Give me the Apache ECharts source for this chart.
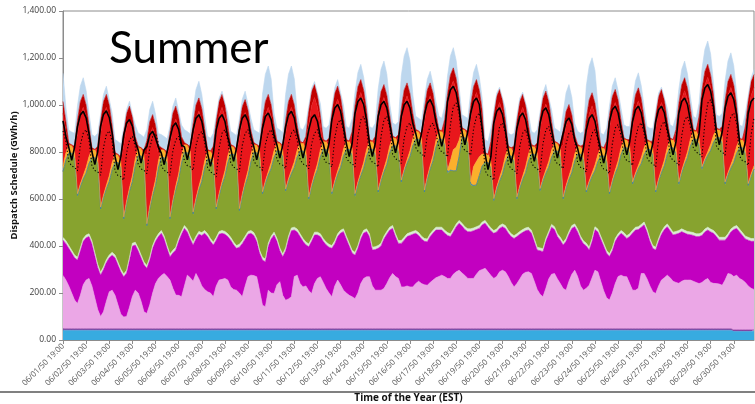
<!DOCTYPE html>
<html>
<head>
<meta charset="utf-8">
<script src="https://cdn.jsdelivr.net/npm/echarts@6/dist/echarts.min.js"></script>
<style>
html,body{margin:0;padding:0;background:#fff;}
#chart{width:755px;height:404px;}
</style>
</head>
<body>
<div id="chart"></div>
<script>
// Summer dispatch schedule, 3-hourly steps starting 06/01/50 19:00 (GWh/h per layer)
const tickLabels = [
  '06/01/50 19:00','06/02/50 19:00','06/03/50 19:00','06/04/50 19:00','06/05/50 19:00',
  '06/06/50 19:00','06/07/50 19:00','06/08/50 19:00','06/09/50 19:00','06/10/50 19:00',
  '06/11/50 19:00','06/12/50 19:00','06/13/50 19:00','06/14/50 19:00','06/15/50 19:00',
  '06/16/50 19:00','06/17/50 19:00','06/18/50 19:00','06/19/50 19:00','06/20/50 19:00',
  '06/21/50 19:00','06/22/50 19:00','06/23/50 19:00','06/24/50 19:00','06/25/50 19:00',
  '06/26/50 19:00','06/27/50 19:00','06/28/50 19:00','06/29/50 19:00','06/30/50 19:00'
];
const stepHours = ['19:00','22:00','01:00','04:00','07:00','10:00','13:00','16:00'];
const yTicks = [0, 200, 400, 600, 800, 1000, 1200, 1400];

// stacked layers, bottom to top
const skyBlue = [
  42,42,42,42,42,42,42,42, 42,42,42,42,42,42,42,42,
  42,42,42,42,42,42,42,42, 42,42,42,42,42,42,42,42,
  42,42,42,42,42,42,42,42, 42,42,42,42,42,42,42,42,
  42,42,42,42,42,42,42,42, 42,42,42,42,42,42,42,42,
  42,42,42,42,42,42,42,42, 42,42,42,42,42,42,42,42,
  42,42,42,42,42,42,42,42, 42,42,42,42,42,42,42,42,
  42,42,42,42,42,42,42,42, 42,42,42,42,42,42,42,42,
  42,42,42,42,42,42,42,42, 42,42,42,42,42,42,42,42,
  42,42,42,42,42,42,42,42, 42,42,42,42,42,42,42,42,
  42,42,42,42,42,42,42,42, 42,42,42,42,42,42,42,42,
  42,42,42,42,42,42,42,42, 42,42,42,42,42,42,42,42,
  42,42,42,42,42,42,42,42, 42,42,42,42,42,42,42,42,
  42,42,42,42,42,42,42,42, 42,42,42,42,42,42,42,42,
  42,42,42,42,42,42,42,42, 42,42,42,42,42,42,42,42,
  42,42,42,42,42,42,42,42, 37,37,37,37,37,37,37,37
];
const purple = [
  6,6,6,6,6,6,6,6, 6,6,6,6,6,6,6,6, 6,6,6,6,6,6,6,6, 6,6,6,6,6,6,6,6,
  6,6,6,6,6,6,6,6, 6,6,6,6,6,6,6,6, 6,6,6,6,6,6,6,6, 6,6,6,6,6,6,6,6,
  6,6,6,6,6,6,6,6, 6,6,6,6,6,6,6,6, 6,6,6,6,6,6,6,6, 6,6,6,6,6,6,6,6,
  6,6,6,6,6,6,6,6, 6,6,6,6,6,6,6,6, 6,6,6,6,6,6,6,6, 6,6,6,6,6,6,6,6,
  6,6,6,6,6,6,6,6, 6,6,6,6,6,6,6,6, 6,6,6,6,6,6,6,6, 6,6,6,6,6,6,6,6,
  6,6,6,6,6,6,6,6, 6,6,6,6,6,6,6,6, 6,6,6,6,6,6,6,6, 6,6,6,6,6,6,6,6,
  6,6,6,6,6,6,6,6, 6,6,6,6,6,6,6,6, 6,6,6,6,6,6,6,6, 6,6,6,6,6,6,6,6,
  6,6,6,6,6,6,6,6, 6,6,6,6,6,6,6,6
];
const pink = [
  227,207,182,152,122,107,142,187, 207,214,182,132,82,52,72,117,
  157,164,142,102,62,50,52,92, 137,164,152,117,72,65,102,152,
  192,214,227,235,222,207,172,143, 142,136,182,228,217,202,235,212,
  182,167,157,152,136,182,207,210, 214,207,178,167,164,152,136,182,
  222,228,226,221,162,100,94,164, 152,150,187,200,142,121,127,136,
  222,228,192,178,182,162,150,192, 214,221,197,171,152,136,182,207,
  187,164,152,142,136,128,152,192, 214,221,221,182,164,164,164,171,
  192,217,235,222,214,178,178,182, 178,178,192,202,192,187,185,197,
  207,217,222,228,222,214,214,232, 242,249,237,227,214,214,214,232,
  247,252,257,242,227,214,222,242, 249,242,222,197,178,192,212,232,
  240,242,235,202,167,147,136,172, 212,232,235,212,192,171,164,202,
  232,249,222,182,164,172,185,217, 249,242,202,162,132,122,152,192,
  222,228,222,221,192,164,164,172, 235,235,212,182,157,150,182,207,
  217,228,217,202,197,193,202,207, 207,207,202,197,192,197,207,214,
  197,193,192,190,185,207,235,232, 227,233,219,212,202,187,177,172
];
const magenta = [
  150,155,160,170,180,185,190,185, 180,178,180,180,180,176,180,165,
  145,149,160,170,180,171,185,200, 215,192,180,185,200,192,190,190,
  180,178,179,147,120,99,150,192, 230,266,245,184,165,154,147,190,
  215,239,235,220,220,195,195,196, 188,185,199,190,178,195,226,200,
  180,178,171,151,160,192,191,188, 230,249,185,132,164,211,255,281,
  198,184,200,194,175,187,222,207, 185,171,175,186,195,206,180,185,
  220,249,230,210,186,185,190,190, 193,192,171,153,173,178,188,211,
  210,203,192,170,149,185,199,210, 219,224,214,195,190,185,185,195,
  200,203,198,192,185,183,178,180, 192,200,200,195,199,199,203,190,
  180,190,192,190,190,192,190,185, 185,185,185,195,206,200,190,178,
  177,178,172,170,168,185,192,200, 190,200,187,180,185,185,208,200,
  195,185,190,200,198,180,150,155, 173,170,180,190,190,185,180,180,
  170,178,175,163,200,243,256,250, 197,207,200,190,185,185,190,195,
  205,206,200,197,205,213,211,200, 195,193,195,195,200,200,205,206,
  215,213,200,187,192,170,157,180, 200,199,198,190,185,195,200,205
];
const paleGreen = [
  12,12,12,12,12,12,12,12, 12,12,12,12,12,12,12,12, 12,12,12,12,12,12,12,12, 12,12,12,12,12,12,12,12,
  12,12,12,12,12,12,12,12, 12,12,12,12,12,12,12,12, 12,12,12,12,12,12,12,12, 12,12,12,12,12,12,12,12,
  12,12,12,12,12,12,12,12, 12,12,12,12,12,12,12,12, 12,12,12,12,12,12,12,12, 12,12,12,12,12,12,12,12,
  12,12,12,12,12,12,12,12, 12,12,12,12,12,12,12,12, 12,12,12,12,12,12,12,12, 12,12,12,12,12,12,12,12,
  12,12,12,12,12,12,12,12, 12,12,12,12,12,12,12,12, 12,12,12,12,12,12,12,12, 12,12,12,12,12,12,12,12,
  12,12,12,12,12,12,12,12, 12,12,12,12,12,12,12,12, 12,12,12,12,12,12,12,12, 12,12,12,12,12,12,12,12,
  12,12,12,12,12,12,12,12, 12,12,12,12,12,12,12,12, 12,12,12,12,12,12,12,12, 12,12,12,12,12,12,12,12,
  12,12,12,12,12,12,12,12, 12,12,12,12,12,12,12,12
];
const olive = [
  280,344,393,413,408,258,260,253, 263,299,354,404,429,265,292,302,
  312,352,393,423,428,230,282,281, 262,326,391,421,426,165,204,212,
  226,280,310,334,349,145,201,245, 251,292,310,325,330,116,149,177,
  217,267,317,337,328,116,150,194, 233,302,353,373,363,139,187,217,
  235,293,340,365,390,266,320,290, 288,317,372,412,413,238,232,231,
  254,306,352,372,362,187,218,234, 266,327,379,394,379,216,244,253,
  267,309,369,399,404,237,258,258, 264,308,359,416,389,223,263,273,
  284,316,339,374,378,245,278,300, 323,364,388,397,387,193,252,276,
  295,340,374,374,362,253,268,248, 226,271,364,379,363,187,178,178,
  213,239,246,263,253,123,166,189, 211,267,316,331,314,144,183,213,
  235,281,323,358,370,240,287,277, 273,286,322,352,342,180,213,221,
  225,267,318,348,343,213,270,264, 238,287,341,371,376,251,276,276,
  286,322,361,374,341,193,218,246, 259,286,339,379,384,230,241,250,
  259,295,341,359,331,194,236,280, 314,365,397,402,377,268,287,306,
  335,375,409,424,399,223,248,259, 273,307,346,361,351,216,262,295
];
const steelBlue = [
  0,0,0,0,0,5,3,0, 0,0,0,0,0,5,3,0, 0,0,0,0,0,5,3,0, 0,0,0,0,0,5,3,0,
  0,0,0,0,0,5,3,0, 0,0,0,0,0,5,3,0, 0,0,0,0,0,5,3,0, 0,0,0,0,0,5,3,0,
  0,0,0,0,0,5,3,0, 0,0,0,0,0,5,3,0, 0,0,0,0,0,5,3,0, 0,0,0,0,0,5,3,0,
  0,0,0,0,0,5,3,0, 0,0,0,0,0,5,3,0, 0,0,0,0,0,5,3,0, 0,0,0,0,0,5,3,0,
  0,0,0,0,0,5,3,0, 0,0,0,0,0,5,3,0, 0,0,0,0,0,5,3,0, 0,0,0,0,0,5,3,0,
  0,0,0,0,0,5,3,0, 0,0,0,0,0,5,3,0, 0,0,0,0,0,5,3,0, 0,0,0,0,0,5,3,0,
  0,0,0,0,0,5,3,0, 0,0,0,0,0,5,3,0, 0,0,0,0,0,5,3,0, 0,0,0,0,0,5,3,0,
  0,0,0,0,0,5,3,0, 0,0,0,0,0,5,3,0
];
const amber = [
  25,30,35,35,30,8,10,15, 25,30,35,35,30,8,10,15, 25,30,35,35,30,8,10,15, 25,30,35,35,30,8,10,15,
  25,30,35,35,30,8,10,15, 25,30,35,35,30,8,10,15, 25,30,35,35,30,8,10,15, 25,30,35,35,30,8,10,15,
  25,30,35,35,30,8,10,15, 25,30,35,35,30,8,10,15, 25,30,35,35,30,8,10,15, 25,30,35,35,30,8,10,15,
  25,30,35,35,30,8,10,15, 25,30,35,35,30,8,10,15, 25,30,35,35,30,8,10,15, 25,30,35,35,30,8,10,15,
  25,30,35,35,30,8,40,90, 100,70,35,35,30,8,80,100, 80,50,35,35,30,8,10,15, 25,30,35,35,30,8,10,15,
  25,30,35,35,30,8,10,15, 25,30,35,35,30,8,10,15, 25,30,35,35,30,8,10,15, 25,30,35,35,30,8,10,15,
  25,30,35,35,30,8,10,15, 25,30,35,35,30,8,10,15, 25,30,35,35,30,8,10,15, 25,30,35,35,30,8,10,15,
  25,30,35,35,30,8,10,15, 25,30,35,35,30,8,10,15
];
const red = [
  223,94,0,0,10,252,290,290, 215,94,0,0,29,309,338,331,
  251,120,0,0,5,301,313,292, 201,53,0,0,5,294,300,275,
  181,27,0,0,5,301,309,285, 192,41,0,0,5,315,336,321,
  236,97,0,0,36,309,330,315, 230,91,0,0,5,294,311,294,
  206,64,0,0,8,244,277,273, 195,69,0,0,5,232,268,267,
  191,67,0,0,43,308,334,324, 242,108,0,0,29,279,311,305,
  226,98,0,0,57,315,345,338, 257,127,0,0,36,279,309,302,
  221,91,0,0,28,243,276,272, 194,68,0,0,5,286,309,296,
  212,74,0,0,64,265,305,293, 243,138,0,0,7,265,280,293,
  233,147,0,0,71,294,325,320, 241,112,0,0,22,266,297,292,
  213,84,0,0,29,244,281,280, 204,81,0,0,5,223,254,249,
  170,41,0,0,22,244,284,286, 212,93,0,0,43,265,295,288,
  208,78,0,0,15,230,272,275, 202,85,0,0,15,258,290,284,
  205,77,0,0,58,273,304,299, 220,91,0,0,79,265,311,317,
  246,132,0,0,29,287,327,329, 255,136,0,0,72,294,333,333
];
const darkRed = [
  50,40,8,0,15,60,60,55, 50,40,8,0,15,60,60,55, 50,40,8,0,15,60,60,55, 50,40,8,0,15,60,60,55,
  50,40,8,0,15,60,60,55, 50,40,8,0,15,60,60,55, 50,40,8,0,15,60,60,55, 50,40,8,0,15,60,60,55,
  50,40,8,0,15,60,60,55, 50,40,8,0,15,60,60,55, 50,40,8,0,15,60,60,55, 50,40,8,0,15,60,60,55,
  50,40,8,0,15,60,60,55, 50,40,8,0,15,60,60,55, 50,40,8,0,15,60,60,55, 50,40,8,0,15,60,60,55,
  50,40,8,0,15,60,60,55, 50,40,8,0,15,60,60,55, 50,40,8,0,15,60,60,55, 50,40,8,0,15,60,60,55,
  50,40,8,0,15,60,60,55, 50,40,8,0,15,60,60,55, 50,40,8,0,15,60,60,55, 50,40,8,0,15,60,60,55,
  50,40,8,0,15,60,60,55, 50,40,8,0,15,60,60,55, 50,40,8,0,15,60,60,55, 50,40,8,0,15,60,60,55,
  50,40,8,0,15,60,60,55, 50,40,8,0,15,60,60,55
];
const iceBlue = [
  120,60,55,55,55,61,66,71, 61,50,55,55,55,25,30,35,
  25,50,55,55,55,20,16,21, 11,50,55,55,55,47,52,57,
  47,50,55,55,55,25,30,35, 25,50,55,55,55,61,66,71,
  61,50,55,55,55,20,15,14, 10,50,55,55,55,26,31,36,
  26,50,55,55,55,111,116,121, 111,51,55,55,55,111,116,121,
  111,51,55,55,55,20,15,13, 10,50,55,55,55,20,23,28,
  18,50,55,55,55,55,60,65, 55,50,55,55,55,90,95,100,
  90,50,55,55,55,140,145,150, 140,80,55,55,55,40,45,50,
  40,50,55,55,55,76,81,86, 76,50,55,55,55,55,60,65,
  55,50,55,55,55,20,15,10, 10,50,55,55,55,20,15,10,
  10,50,55,55,55,20,23,28, 18,50,55,55,55,75,80,85,
  75,50,55,55,55,139,144,149, 139,79,55,55,55,40,45,50,
  40,50,55,55,55,54,59,64, 54,50,55,55,55,20,15,10,
  10,50,55,55,55,61,66,71, 61,50,55,55,55,89,94,99,
  89,50,55,55,55,82,87,92, 82,50,55,55,55,20,16,21
];

// overlaid traces (not stacked)
const solidTrace = [
  932,865,820,765,820,908,958,973, 945,878,801,746,801,910,960,975,
  947,880,780,725,780,873,923,938, 910,843,808,753,808,823,873,888,
  860,820,795,746,801,859,909,924, 896,829,822,767,822,894,944,959,
  931,864,794,739,794,894,944,959, 931,864,815,760,815,894,944,959,
  931,864,822,767,822,901,951,966, 938,871,829,774,829,908,958,973,
  945,878,829,774,829,894,944,959, 931,864,836,781,836,937,987,1002,
  974,907,836,781,836,965,1015,1030, 1002,935,836,781,836,951,1001,1016,
  988,921,851,796,851,951,1001,1016, 988,921,879,824,879,958,1008,1023,
  995,928,879,824,879,1015,1065,1080, 1052,985,886,831,886,965,1015,1030,
  1002,900,790,725,780,923,973,988, 960,893,808,753,808,901,951,966,
  938,871,815,760,815,923,973,988, 960,893,829,774,829,880,930,945,
  917,850,815,760,815,894,944,959, 931,864,808,753,808,930,980,995,
  967,900,843,788,843,930,980,995, 967,900,836,781,836,930,980,995,
  967,900,843,788,843,965,1015,1030, 1002,935,879,824,879,1022,1072,1087,
  1059,992,886,831,886,987,1037,1052, 1024,957,843,788,843,965,1015,1030
];
const dottedTrace = [
  890,845,760,740,735,720,830,880, 895,850,741,721,716,701,818,875,
  890,845,720,700,695,680,796,852, 867,822,748,728,723,708,817,865,
  880,835,741,721,716,701,806,852, 867,822,762,742,737,722,828,873,
  888,843,734,714,709,694,817,880, 895,850,755,735,730,715,828,880,
  895,850,762,742,737,722,831,880, 895,850,769,749,744,729,835,880,
  895,850,769,749,744,729,835,880, 895,850,776,756,751,736,860,923,
  938,893,776,756,751,736,866,937, 952,907,776,756,751,736,866,937,
  952,907,791,771,766,751,860,909, 924,879,819,799,794,779,874,909,
  924,879,819,799,794,779,916,994, 1009,964,826,806,801,786,898,951,
  966,880,720,700,695,680,825,909, 924,879,748,728,723,708,824,880,
  895,850,755,735,730,715,835,894, 909,864,769,749,744,729,835,880,
  895,850,755,735,730,715,828,880, 895,850,748,728,723,708,835,902,
  917,872,783,763,758,743,856,909, 924,879,776,756,751,736,856,915,
  930,885,783,763,758,743,870,937, 952,907,819,799,794,779,924,1008,
  1023,978,826,806,801,786,898,951, 966,921,783,763,758,743,874,945
];

// category names: one per 3-hour step; the 19:00 steps carry the tick labels
const categories = [];
for (let k = 0; k < tickLabels.length; k++) {
  for (let j = 0; j < stepHours.length; j++) {
    if (j === 0) { categories.push(tickLabels[k]); continue; }
    let day = k + 1 + (j >= 2 ? 1 : 0);
    const month = day > 30 ? '07' : '06';
    if (day > 30) day -= 30;
    categories.push(month + '/' + String(day).padStart(2, '0') + '/50 ' + stepHours[j]);
  }
}

const layers = [
  ['skyBlue', skyBlue, '#37ABE0'],
  ['purple', purple, '#8A3D9E'],
  ['pink', pink, '#EBA7E6'],
  ['magenta', magenta, '#C200C0'],
  ['paleGreen', paleGreen, '#D8EDD0'],
  ['olive', olive, '#87A32F'],
  ['steelBlue', steelBlue, '#2E75B6'],
  ['amber', amber, '#FBB02C'],
  ['red', red, '#E8171C'],
  ['darkRed', darkRed, '#C00000'],
  ['iceBlue', iceBlue, '#BDD7EE']
];

const series = layers.map(([name, data, color]) => ({
  name, type: 'line', stack: 'dispatch', data,
  symbol: 'none', silent: true,
  lineStyle: { width: 0.6, color },
  areaStyle: { color, opacity: 1 },
  emphasis: { disabled: true }
}));
series.push({
  name: 'solidTrace', type: 'line', data: solidTrace, symbol: 'none', silent: true, z: 5,
  lineStyle: { width: 1.6, color: '#000' }, emphasis: { disabled: true }
});
series.push({
  name: 'dottedTrace', type: 'line', data: dottedTrace, symbol: 'none', silent: true, z: 5,
  lineStyle: { width: 1.1, color: '#000', type: [1.2, 2.2] }, emphasis: { disabled: true }
});

const chart = echarts.init(document.getElementById('chart'), null, { renderer: 'canvas' });
chart.setOption({
  animation: false,
  backgroundColor: '#fff',
  textStyle: { fontFamily: 'Open Sans' },
  grid: {
    left: 63, right: 1, top: 11, bottom: 64,
    outerBoundsMode: 'none', containLabel: false,
    show: true, borderColor: '#8c8c8c', borderWidth: 1
  },
  xAxis: {
    type: 'category', data: categories, boundaryGap: false,
    name: 'Time of the Year (EST)', nameLocation: 'middle', nameGap: 53, nameMoveOverlap: false,
    nameTextStyle: { fontSize: 10, fontWeight: 'bold', color: '#111', fontFamily: 'Open Sans' },
    axisLine: { lineStyle: { color: '#8c8c8c' } },
    axisTick: { interval: 7, length: 4, lineStyle: { color: '#8c8c8c' } },
    axisLabel: { interval: 7, rotate: 45, fontSize: 8, color: '#595959', margin: 5 },
    splitLine: { show: false }
  },
  yAxis: {
    type: 'value', min: yTicks[0], max: yTicks[yTicks.length - 1], interval: 200,
    name: 'Dispatch Schedule (GWh/h)', nameLocation: 'middle', nameGap: 44, nameMoveOverlap: false,
    nameTextStyle: { fontSize: 9.5, fontWeight: 'bold', color: '#111', fontFamily: 'Open Sans' },
    axisLine: { show: true, lineStyle: { color: '#8c8c8c' } },
    axisTick: { show: true, length: 4, lineStyle: { color: '#8c8c8c' } },
    axisLabel: {
      fontSize: 8.5, color: '#404040', margin: 7,
      formatter: v => v.toLocaleString('en-US', { minimumFractionDigits: 2, maximumFractionDigits: 2 })
    },
    splitLine: { show: false }
  },
  graphic: [
    { type: 'text', left: 109, top: 27, z: 10,
      style: { text: 'Summer', font: 'normal 44px Lato', fill: '#000' } },
    { type: 'line', z: 10, shape: { x1: 0, y1: 392, x2: 755, y2: 392 },
      style: { stroke: '#808080', lineWidth: 2 } }
  ],
  series
});
</script>
</body>
</html>
